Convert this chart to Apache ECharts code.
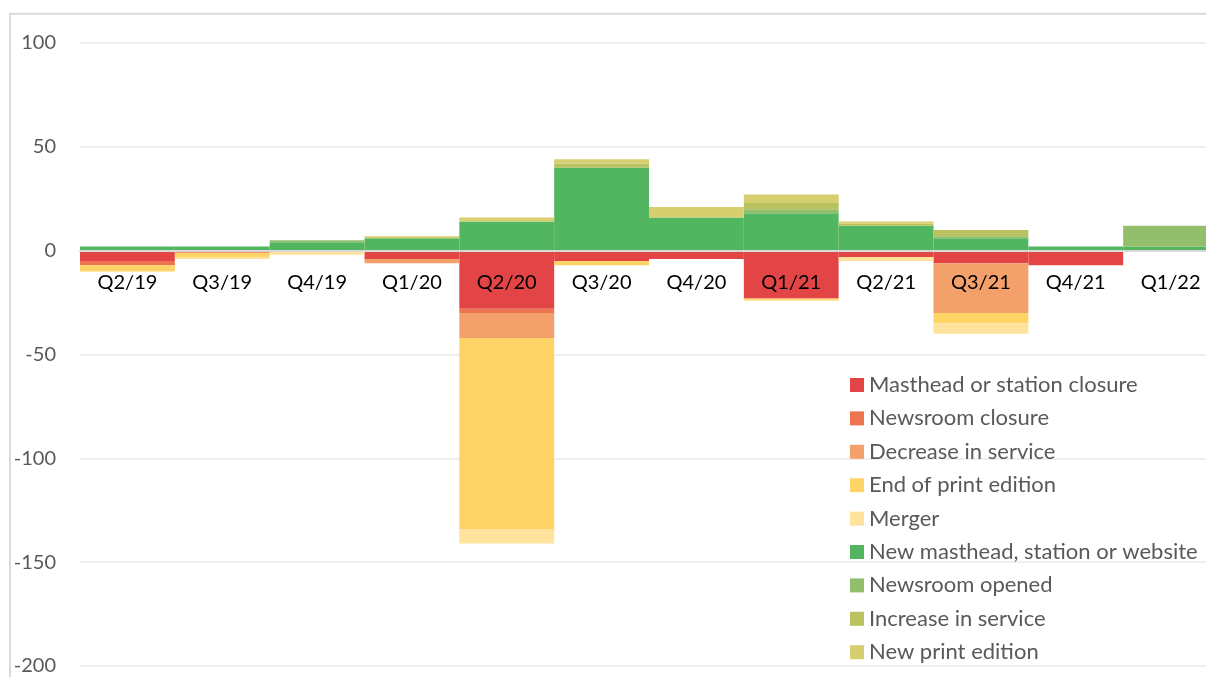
<!DOCTYPE html>
<html>
<head>
<meta charset="utf-8">
<script src="https://cdn.jsdelivr.net/npm/echarts@6/dist/echarts.min.js"></script>
<style>
  html, body { margin: 0; padding: 0; background: #fff; }
  #chart { width: 1206px; height: 677px; }
</style>
</head>
<body>
<div id="chart"></div>
<script>
// ---- data ----
const categories = ['Q2/19','Q3/19','Q4/19','Q1/20','Q2/20','Q3/20','Q4/20','Q1/21','Q2/21','Q3/21','Q4/21','Q1/22'];
const mastheadClosure  = [-5, -1,  0, -4, -28, -5, -4, -23, -3,  -6, -7,  0];
const newsroomClosure  = [-2,  0,  0,  0,  -2,  0,  0,   0,  0,   0,  0,  0];
const decreaseService  = [ 0,  0,  0, -2, -12,  0,  0,   0,  0, -24,  0,  0];
const endPrint         = [-3, -2,  0,  0, -92, -2,  0,  -1,  0,  -5,  0,  0];
const merger           = [ 0, -1, -2,  0,  -7,  0,  0,   0, -2,  -5,  0,  0];
const newMasthead      = [ 2,  2,  4,  6,  14, 40, 16,  18, 12,   6,  2,  2];
const newsroomOpened   = [ 0,  0,  1,  0,   0,  0,  0,   2,  0,   1,  0, 10];
const increaseService  = [ 0,  0,  0,  0,   0,  2,  0,   3,  1,   3,  0,  0];
const newPrint         = [ 0,  0,  0,  1,   2,  2,  5,   4,  1,   0,  0,  0];
const yTicks = { min: -200, max: 100, interval: 50 };

const seriesDefs = [
  ['Masthead or station closure', mastheadClosure, '#E34546'],
  ['Newsroom closure', newsroomClosure, '#EC7450'],
  ['Decrease in service', decreaseService, '#F3A06B'],
  ['End of print edition', endPrint, '#FFD466'],
  ['Merger', merger, '#FFE29B'],
  ['New masthead, station or website', newMasthead, '#52B660'],
  ['Newsroom opened', newsroomOpened, '#93BE6C'],
  ['Increase in service', increaseService, '#B9C25E'],
  ['New print edition', newPrint, '#D5CF70']
];

const GRID_TOP = 43, GRID_H = 623;
// place the category axis on the zero line of the value axis
const zeroOffset = -GRID_H * (0 - yTicks.min) / (yTicks.max - yTicks.min);

const chart = echarts.init(document.getElementById('chart'), null, { renderer: 'canvas' });
const FONT = 'Lato';
chart.setOption({
  animation: false,
  backgroundColor: '#ffffff',
  graphic: [{
    type: 'rect',
    shape: { x: 10, y: 13.7, width: 1400, height: 900 },
    style: { fill: 'none', stroke: '#D9D9D9', lineWidth: 2 },
    z: 0
  }],
  grid: { left: 80, top: GRID_TOP, width: 1138, height: GRID_H, containLabel: false, outerBoundsMode: 'none' },
  legend: {
    orient: 'vertical',
    left: 850,
    top: 373,
    padding: 0,
    itemWidth: 14,
    itemHeight: 14,
    itemGap: 9.4,
    icon: 'rect',
    textStyle: { fontFamily: FONT, fontSize: 22, color: '#595959', lineHeight: 24 },
    data: seriesDefs.map(d => d[0])
  },
  xAxis: {
    type: 'category',
    data: categories,
    position: 'bottom',
    offset: zeroOffset,
    z: 10,
    axisLine: { onZero: false, lineStyle: { color: '#D9D9D9', width: 2 } },
    axisTick: { show: false },
    axisLabel: { interval: 0, margin: 22, fontFamily: FONT, fontSize: 20, color: '#000000' },
    splitLine: { show: false }
  },
  yAxis: {
    type: 'value',
    min: yTicks.min,
    max: yTicks.max,
    interval: yTicks.interval,
    axisLine: { show: false },
    axisTick: { show: false },
    axisLabel: { margin: 24, fontFamily: FONT, fontSize: 20, color: '#595959' },
    splitLine: { lineStyle: { color: '#EFEFEF', width: 2 } }
  },
  series: seriesDefs.map(d => ({
    name: d[0],
    type: 'bar',
    stack: 'all',
    data: d[1],
    barCategoryGap: '0%',
    barGap: '0%',
    itemStyle: { color: d[2] }
  }))
});
</script>
</body>
</html>
